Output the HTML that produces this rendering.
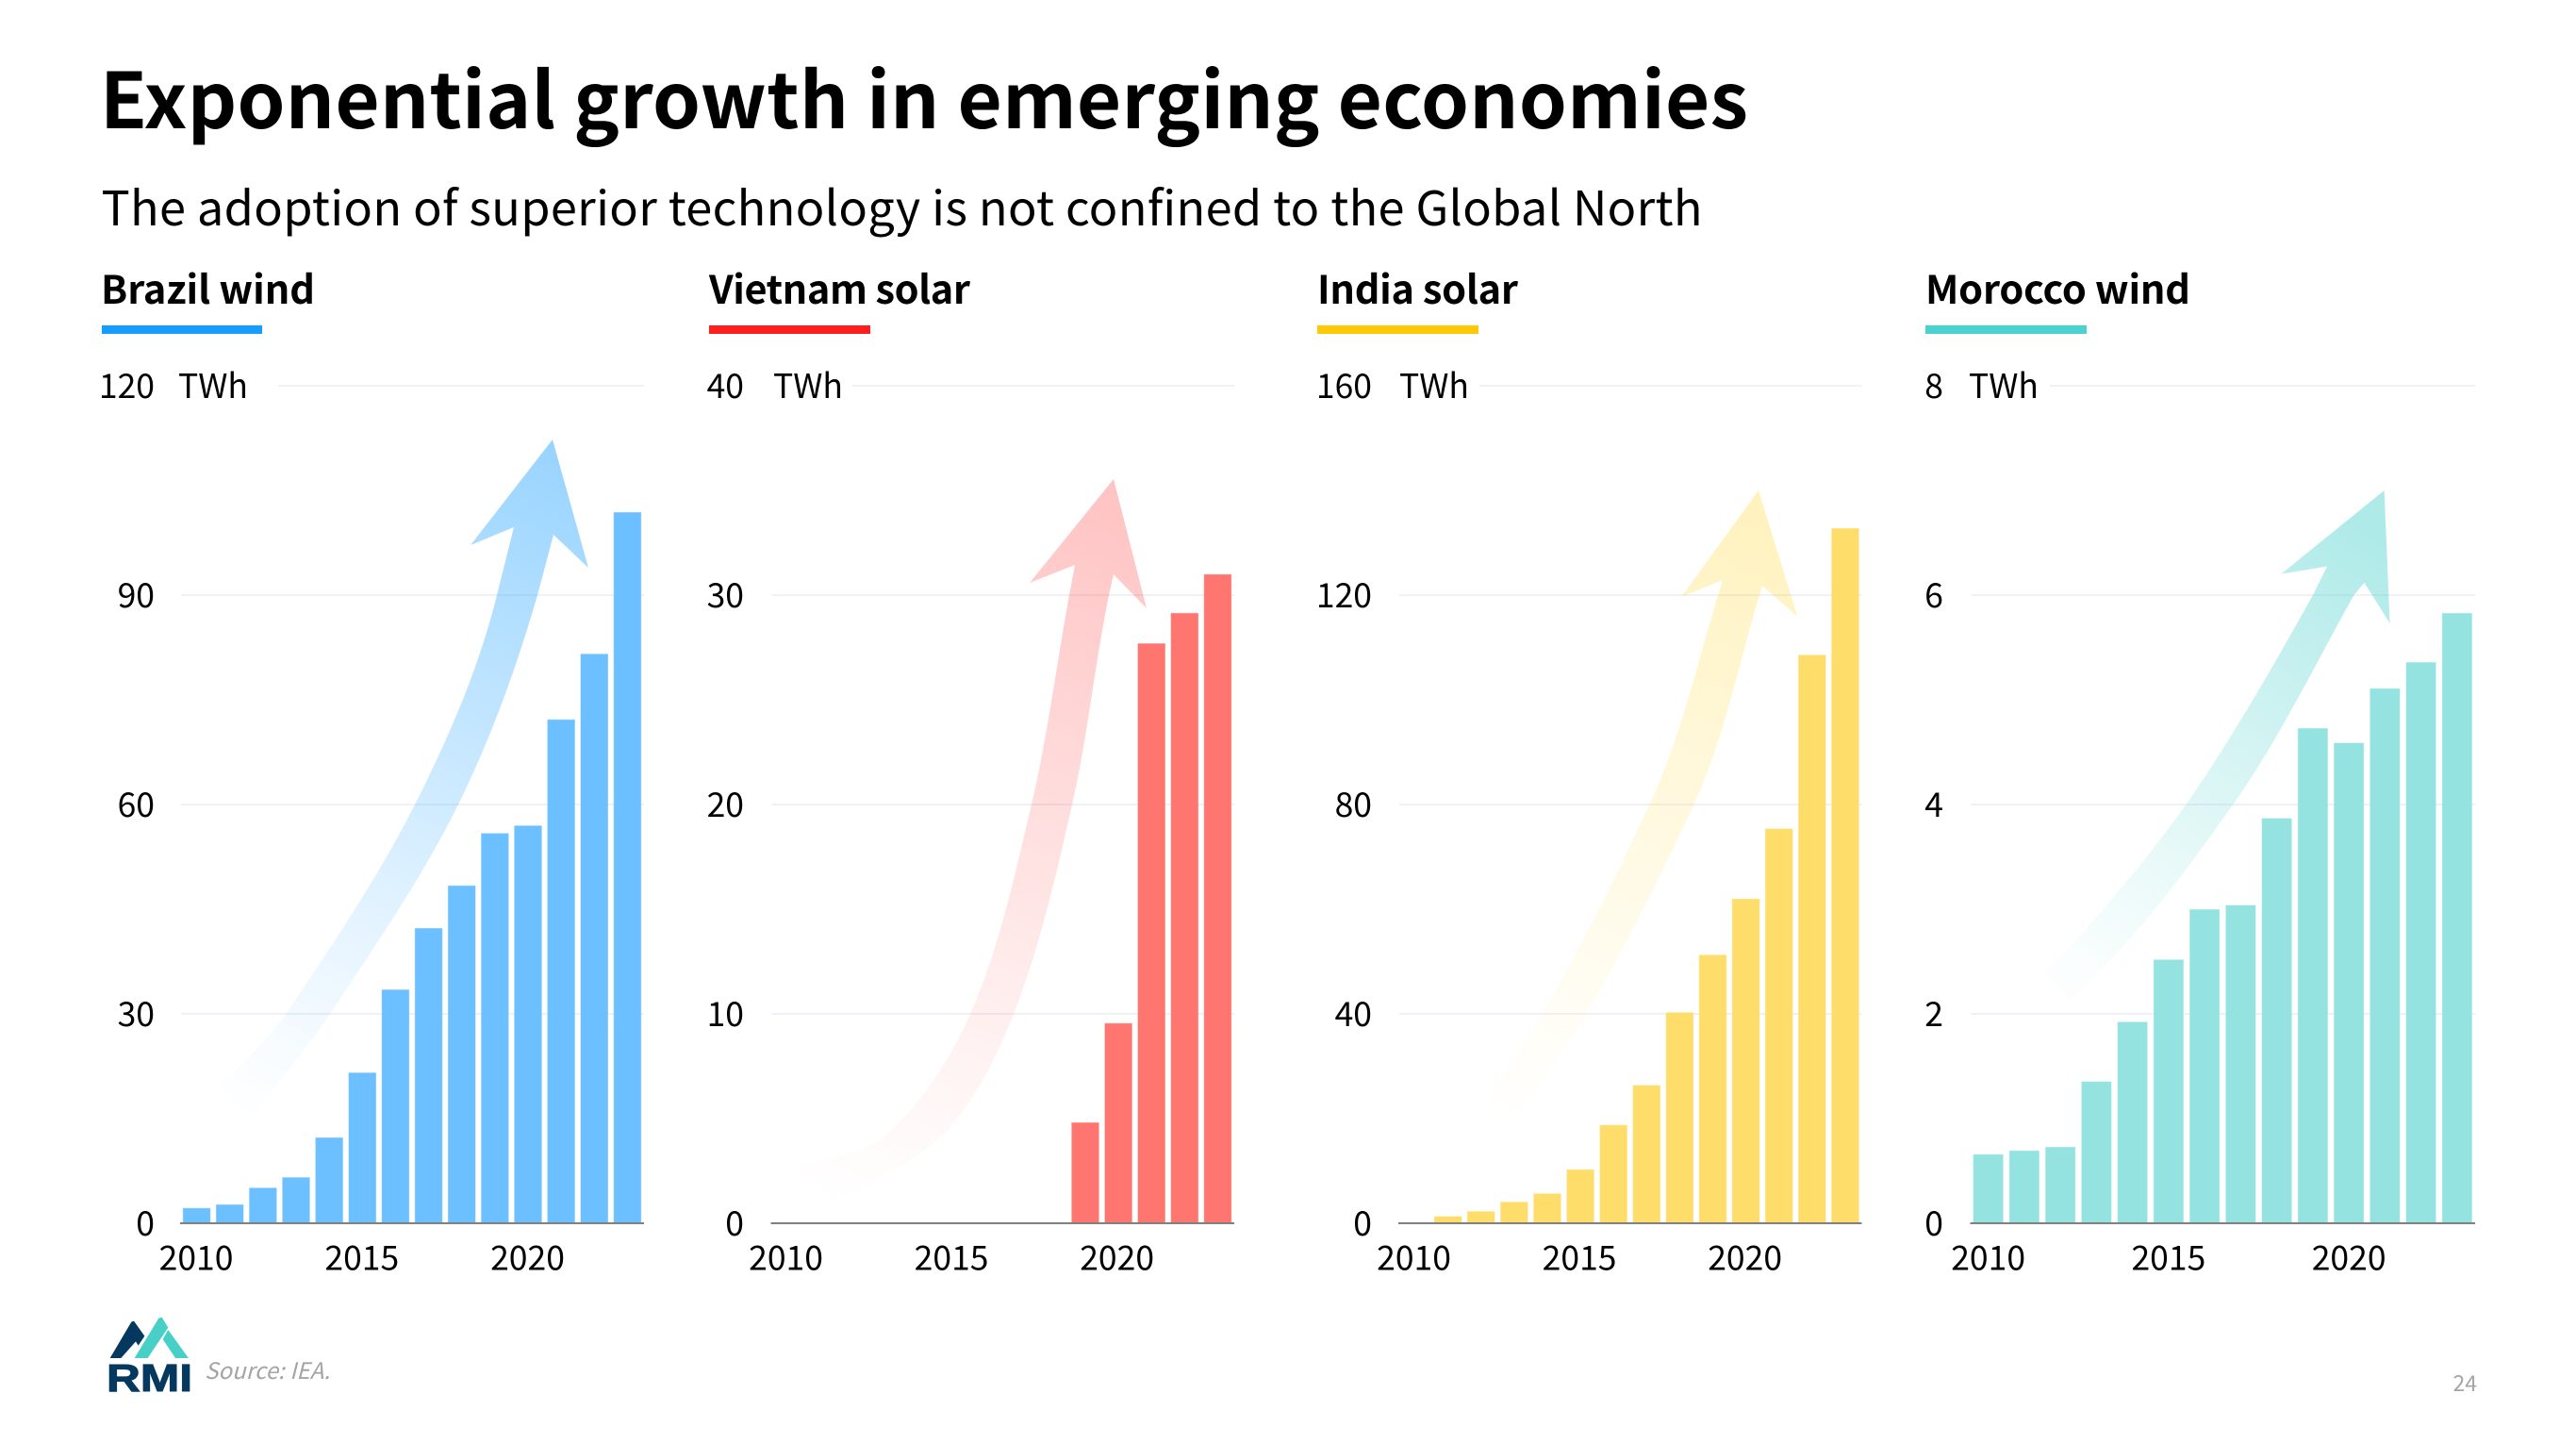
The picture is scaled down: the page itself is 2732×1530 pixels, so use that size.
<!DOCTYPE html>
<html lang="en">
<head>
<meta charset="utf-8">
<title>Exponential growth in emerging economies</title>
<style>
html,body{margin:0;padding:0;background:#fff;width:2732px;height:1530px;overflow:hidden}
svg{display:block}
text{font-family:"Noto Sans CJK JP","Liberation Sans",sans-serif;fill:#000}
.b{font-weight:700}
</style>
</head>
<body>
<svg id="slide" xmlns="http://www.w3.org/2000/svg" width="2732" height="1530" viewBox="0 0 2732 1530">
<defs>
<linearGradient id="gBrazil" gradientUnits="userSpaceOnUse" x1="228" y1="1190" x2="586" y2="466"><stop offset="0" stop-color="#1a9fff" stop-opacity="0"/><stop offset=".12" stop-color="#1a9fff" stop-opacity=".03"/><stop offset=".33" stop-color="#1a9fff" stop-opacity=".12"/><stop offset=".76" stop-color="#1a9fff" stop-opacity=".33"/><stop offset="1" stop-color="#1a9fff" stop-opacity=".45"/></linearGradient>
<linearGradient id="gVietnam" gradientUnits="userSpaceOnUse" x1="850" y1="1285" x2="1181" y2="508"><stop offset="0" stop-color="#ff1e1e" stop-opacity="0"/><stop offset=".12" stop-color="#ff1e1e" stop-opacity=".018"/><stop offset=".33" stop-color="#ff1e1e" stop-opacity=".072"/><stop offset=".76" stop-color="#ff1e1e" stop-opacity=".2"/><stop offset="1" stop-color="#ff1e1e" stop-opacity=".27"/></linearGradient>
<linearGradient id="gIndia" gradientUnits="userSpaceOnUse" x1="1570" y1="1205" x2="1865" y2="520"><stop offset="0" stop-color="#ffcc00" stop-opacity="0"/><stop offset=".12" stop-color="#ffcc00" stop-opacity=".018"/><stop offset=".33" stop-color="#ffcc00" stop-opacity=".07"/><stop offset=".76" stop-color="#ffcc00" stop-opacity=".19"/><stop offset="1" stop-color="#ffcc00" stop-opacity=".26"/></linearGradient>
<linearGradient id="gMorocco" gradientUnits="userSpaceOnUse" x1="2155" y1="1075" x2="2528" y2="560"><stop offset="0" stop-color="#48d0cc" stop-opacity="0"/><stop offset=".12" stop-color="#48d0cc" stop-opacity=".03"/><stop offset=".33" stop-color="#48d0cc" stop-opacity=".12"/><stop offset=".76" stop-color="#48d0cc" stop-opacity=".33"/><stop offset="1" stop-color="#48d0cc" stop-opacity=".45"/></linearGradient>
</defs>

<text class="b" x="106" y="136" font-size="81.5" textLength="1748">Exponential growth in emerging economies</text>
<text x="107.5" y="239" font-size="50.5" textLength="1698">The adoption of superior technology is not confined to the Global North</text>

<text class="b" x="107" y="322" font-size="41.5" textLength="227">Brazil wind</text>
<rect x="108" y="345" width="170" height="9" fill="#159dff"/>
<text class="b" x="752" y="322" font-size="41.5" textLength="277">Vietnam solar</text>
<rect x="752" y="345" width="171" height="9" fill="#ff1e1e"/>
<text class="b" x="1397" y="322" font-size="41.5" textLength="213">India solar</text>
<rect x="1397" y="345" width="171" height="9" fill="#ffc907"/>
<text class="b" x="2042" y="322" font-size="41.5" textLength="281">Morocco wind</text>
<rect x="2042" y="345" width="171" height="9" fill="#4ad2d0"/>

<g id="grids"></g>

<path fill="url(#gBrazil)" d="M545 559 L527 631 C508 708 475.5 783 440 853 C401 930 352 1003 303 1075 C284 1103 257 1127 234 1152 L268 1182 C296 1147 325 1112.5 350 1075 C398 1002.5 447.4 931 486 853 C521 782 548 707 570 631 L587 567 L624 602 L586 466 L499 578 Z"/>
<path fill="url(#gVietnam)" d="M1140 599 L1134 631 C1120.5 704.5 1111 780 1094 853 C1076 928 1060 1005 1029 1075 C1008 1123 978.5 1168 940 1203 C916 1224 880 1227 850 1237 L883 1272 C923.5 1252.6 968.5 1235 1000 1203 C1034 1168 1057 1120.6 1075 1075 C1103 1003 1120 928 1137 853 C1153.6 780 1161 704.5 1176 631 L1181 609 L1216 645 L1181 508 L1092 618 Z"/>
<path fill="url(#gIndia)" d="M1827 615 C1801.5 696 1784.7 777 1749 854 C1714 929.5 1676.5 1004 1635 1076 C1617 1107 1596 1136 1576 1166 L1600 1195 C1626 1155 1658 1117.6 1682 1076 C1723.5 1004 1761 929.5 1796 854 C1830 780 1845 698 1869 621 L1906.5 654 L1865 520 L1783 633 Z"/>
<path fill="url(#gMorocco)" d="M2468 600.5 L2453 631 C2411 706 2368 781.5 2319 852 C2278 910 2231 965 2183 1017 L2168 1032 L2194 1061 L2239 1017 C2287 966 2329 909 2369 852 C2418 782 2455 705 2496.5 631 L2507.4 617.7 L2534.6 661 L2528.6 520 L2419.5 608.5 Z"/>

<g id="charts"></g>

<g transform="translate(100,1385) scale(.3333)">
<polygon fill="#05385f" points="50,165 118,50 126,47 160,95 140,125 132,112 85,165"/>
<polygon fill="#48d0c8" points="128,165 205,38 215,35 235,68 170,165"/>
<polygon fill="#48d0c8" points="235,75 300,165 258,165 218,105"/>
</g>
<text x="113" y="1475" textLength="91" lengthAdjust="spacingAndGlyphs" style="font-family:'Liberation Sans',sans-serif;font-weight:700;fill:#05385f;stroke:#05385f;stroke-width:1" font-size="40.5">RMI</text>
<text x="217" y="1462" font-size="24" font-style="italic" style="fill:#a3a3a8" textLength="133">Source: IEA.</text>
<text x="2627" y="1475" font-size="23" text-anchor="end" style="fill:#a5a5a8">24</text>
</svg>

<script>
const years = [2010,2011,2012,2013,2014,2015,2016,2017,2018,2019,2020,2021,2022,2023];
const xTickYears = [2010,2015,2020];

const brazilValues = [2.2,2.7,5.1,6.6,12.3,21.6,33.5,42.3,48.4,55.9,57,72.2,81.6,101.9];
const vietnamValues = [0,0,0,0,0,0,0,0,0,4.82,9.56,27.7,29.15,31];
const indiaValues = [0,1.35,2.3,4.1,5.7,10.3,18.8,26.4,40.3,51.3,62,75.4,108.6,132.8];
const moroccoValues = [0.66,0.695,0.73,1.355,1.925,2.52,3.0,3.04,3.87,4.73,4.59,5.11,5.36,5.83];

const brazilTicks = [0,30,60,90,120];
const vietnamTicks = [0,10,20,30,40];
const indiaTicks = [0,40,80,120,160];
const moroccoTicks = [0,2,4,6,8];

const AXIS_Y = 1297, TOP_Y = 409;
const SVG_NS = 'http://www.w3.org/2000/svg';

const panels = [
  {key:'brazil',  values:brazilValues,  ticks:brazilTicks,  left:191,    right:683,    labelRight:164,  unitX:189,  topGridLeft:295,  tickShift:-0.5, fill:'#6cc0ff'},
  {key:'vietnam', values:vietnamValues, ticks:vietnamTicks, left:817.5,  right:1309,   labelRight:789,  unitX:820,  topGridLeft:904,  tickShift:-1.5, fill:'#ff7570'},
  {key:'india',   values:indiaValues,   ticks:indiaTicks,   left:1483,   right:1974.5, labelRight:1455, unitX:1484, topGridLeft:1569, tickShift:-1,   fill:'#ffdd6a'},
  {key:'morocco', values:moroccoValues, ticks:moroccoTicks, left:2089.5, right:2625,   labelRight:2061, unitX:2088, topGridLeft:2174, tickShift:0,    fill:'#94e3e1'}
];

function mk(tag, attrs, parent, txt) {
  const el = document.createElementNS(SVG_NS, tag);
  for (const k in attrs) el.setAttribute(k, attrs[k]);
  if (txt !== undefined) el.textContent = txt;
  parent.appendChild(el);
  return el;
}

const gridLayer = document.getElementById('grids');
const chartLayer = document.getElementById('charts');

panels.forEach(function (p) {
  const maxTick = p.ticks[p.ticks.length - 1];
  const band = (p.right - p.left) / years.length;
  const barW = band * 0.84;
  const yScale = function (v) { return AXIS_Y - v / maxTick * (AXIS_Y - TOP_Y); };
  const xBand = function (i) { return p.left + band * i; };

  p.ticks.forEach(function (t) {
    const y = yScale(t);
    if (t !== 0) {
      const line = mk('line', {x1: t === maxTick ? p.topGridLeft : p.left + 1, x2: p.right, y1: y, y2: y, stroke: '#ebebf3', 'stroke-width': 1.5}, gridLayer);
      
      
    }
    const label = mk('text', {x: p.labelRight, y: y + 13, 'font-size': 35.5, 'text-anchor': 'end'}, chartLayer, String(t));
    
    
  });

  const unit = mk('text', {x: p.unitX, y: TOP_Y + 13, 'font-size': 35.5}, chartLayer, 'TWh');
  
  

  p.values.forEach(function (v, i) {
    if (!v) return;
    const top = yScale(v);
    const bar = mk('rect', {x: xBand(i) + (band - barW) / 2 + .5, y: top + .5, width: barW - 1, height: AXIS_Y - top - .5, fill: p.fill, stroke: p.fill, 'stroke-opacity': .55, 'stroke-width': 1}, chartLayer);
    
    
  });

  const axis = mk('line', {x1: p.left, x2: p.right, y1: AXIS_Y, y2: AXIS_Y, stroke: '#808080', 'stroke-width': 2}, chartLayer);
  
  

  xTickYears.forEach(function (yr) {
    const i = years.indexOf(yr);
    const tick = mk('text', {x: xBand(i) + band / 2 + p.tickShift, y: 1346.5, 'font-size': 35.5, 'text-anchor': 'middle'}, chartLayer, String(yr));
    
    
  });
});
</script>
</body>
</html>
